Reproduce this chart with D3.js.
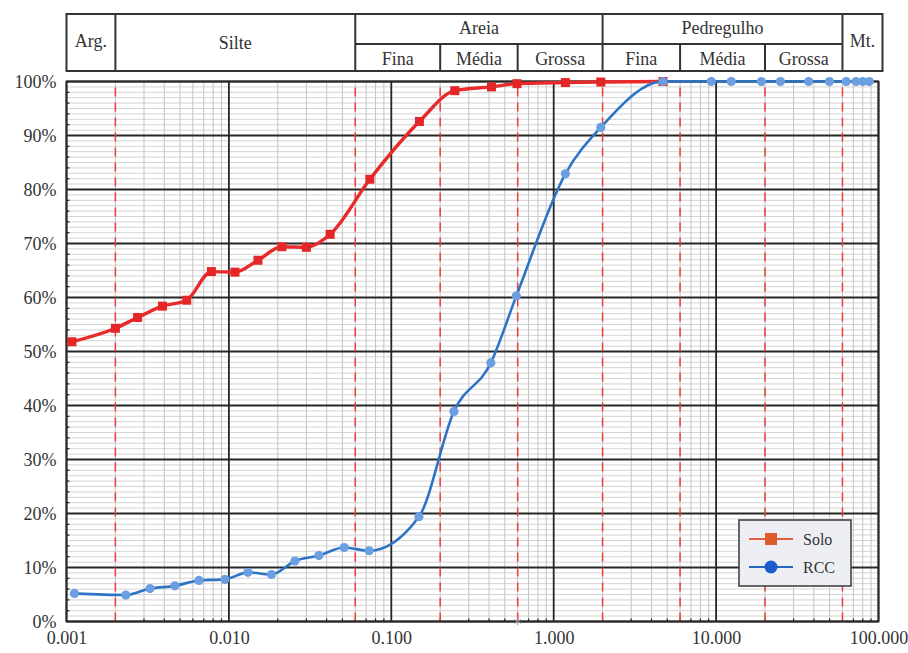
<!DOCTYPE html>
<html>
<head>
<meta charset="utf-8">
<script src="https://cdn.jsdelivr.net/npm/d3@7"></script>
<style>
  html, body { margin: 0; padding: 0; background: #fff; }
  svg { display: block; }
  text { font-family: "Liberation Serif", "Times New Roman", serif; fill: #333; }
</style>
</head>
<body>
<svg id="chart" width="908" height="653"></svg>
<script>
// Grain-size distribution (particle diameter in mm vs. % passing)
const soloDiam = [0.00108, 0.002, 0.00274, 0.0039, 0.0055, 0.0078, 0.0109, 0.0151, 0.0212, 0.030, 0.042, 0.0738, 0.149, 0.246, 0.414, 0.594, 1.18, 1.95, 4.71];
const soloPass = [51.8, 54.3, 56.3, 58.4, 59.5, 64.8, 64.7, 66.9, 69.4, 69.3, 71.7, 81.9, 92.6, 98.3, 99.0, 99.6, 99.8, 99.9, 100];

const rccDiam = [0.00112, 0.00232, 0.00327, 0.00465, 0.00654, 0.00945, 0.0131, 0.0183, 0.0255, 0.0358, 0.0513, 0.073, 0.148, 0.243, 0.41, 0.589, 1.18, 1.95, 4.71, 9.34, 12.4, 19.0, 24.9, 37.2, 49.9, 63.3, 72.8, 80.0, 87.7];
const rccPass = [5.2, 4.9, 6.1, 6.6, 7.6, 7.8, 9.1, 8.7, 11.2, 12.2, 13.7, 13.1, 19.4, 38.9, 47.9, 60.3, 82.9, 91.5, 100, 100, 100, 100, 100, 100, 100, 100, 100, 100, 100];

// Classification limits (mm) and the header bands they bound
const classLimits = [0.002, 0.06, 0.2, 0.6, 2, 6, 20, 60];
const topBands = [
  { label: "Arg.", from: 0.001, to: 0.002, full: true },
  { label: "Silte", from: 0.002, to: 0.06, full: true },
  { label: "Areia", from: 0.06, to: 2, full: false },
  { label: "Pedregulho", from: 2, to: 60, full: false },
  { label: "Mt.", from: 60, to: 100, full: true }
];
const subBands = [
  { label: "Fina", from: 0.06, to: 0.2 },
  { label: "Média", from: 0.2, to: 0.6 },
  { label: "Grossa", from: 0.6, to: 2 },
  { label: "Fina", from: 2, to: 6 },
  { label: "Média", from: 6, to: 20 },
  { label: "Grossa", from: 20, to: 60 }
];

const xTicks = [0.001, 0.01, 0.1, 1, 10, 100];
const yTicks = [0, 10, 20, 30, 40, 50, 60, 70, 80, 90, 100];
const seriesNames = ["Solo", "RCC"];

const svg = d3.select("#chart");
const x = d3.scaleLog().domain([0.001, 100]).range([66.5, 878.5]);
const y = d3.scaleLinear().domain([0, 100]).range([621.5, 81.5]);
const [x0, x1] = x.range();
const [y0, y1] = y.range();

svg.append("rect").attr("width", 908).attr("height", 653).attr("fill", "#fff");

// ---- grid ----
const grid = svg.append("g");
const minorX = [];
[0.001, 0.01, 0.1, 1, 10].forEach(d => { for (let k = 2; k <= 9; k++) minorX.push(k * d); });
const minorY = d3.range(0, 101, 1).filter(v => v % 10 !== 0);

grid.selectAll(".hmin").data(minorY).join("line")
  .attr("x1", x0).attr("x2", x1)
  .attr("y1", d => y(d)).attr("y2", d => y(d))
  .attr("stroke", "#cfcfcf").attr("stroke-width", 0.9);
grid.selectAll(".vmin").data(minorX).join("line")
  .attr("x1", d => x(d)).attr("x2", d => x(d))
  .attr("y1", y0).attr("y2", y1)
  .attr("stroke", "#c4c4c4").attr("stroke-width", 1);
grid.selectAll(".hmaj").data(yTicks).join("line")
  .attr("x1", x0).attr("x2", x1)
  .attr("y1", d => y(d)).attr("y2", d => y(d))
  .attr("stroke", "#262626").attr("stroke-width", 1.8);
grid.selectAll(".vmaj").data(xTicks).join("line")
  .attr("x1", d => x(d)).attr("x2", d => x(d))
  .attr("y1", y0).attr("y2", y1)
  .attr("stroke", "#262626").attr("stroke-width", 1.8);

// small inner ticks
grid.selectAll(".ytk").data(d3.range(2, 100, 2).filter(v => v % 10 !== 0)).join("line")
  .attr("x1", x0).attr("x2", x0 + 3)
  .attr("y1", d => y(d)).attr("y2", d => y(d))
  .attr("stroke", "#222").attr("stroke-width", 1.2);
grid.selectAll(".xtk").data(minorX).join("line")
  .attr("x1", d => x(d)).attr("x2", d => x(d))
  .attr("y1", y0).attr("y2", y0 - 3)
  .attr("stroke", "#222").attr("stroke-width", 1.2);

// classification limits
grid.selectAll(".lim").data(classLimits).join("line")
  .attr("x1", d => x(d)).attr("x2", d => x(d))
  .attr("y1", y0).attr("y2", y1)
  .attr("stroke", "#ef3b3b").attr("stroke-width", 1.5)
  .attr("stroke-dasharray", "9,6");

// plot frame
svg.append("rect")
  .attr("x", x0).attr("y", y1).attr("width", x1 - x0).attr("height", y0 - y1)
  .attr("fill", "none").attr("stroke", "#262626").attr("stroke-width", 1.8);

// ---- axes ----
const yAxis = svg.append("g").attr("transform", `translate(${x0},0)`)
  .call(d3.axisLeft(y).tickValues(yTicks).tickFormat(d => d + "%").tickSize(0).tickPadding(10));
const xAxis = svg.append("g").attr("transform", `translate(0,${y0})`)
  .call(d3.axisBottom(x).tickValues(xTicks).tickFormat(d3.format(".3f")).tickSize(0).tickPadding(10));
[yAxis, xAxis].forEach(a => {
  a.select(".domain").remove();
  a.selectAll("text").attr("font-size", 18).attr("fill", "#333");
});

// small grey marker sitting on the axis at 0.6 mm
svg.append("path")
  .attr("d", d3.symbol(d3.symbolAsterisk, 40)())
  .attr("transform", `translate(${x(0.6)},${y(0)})`)
  .attr("fill", "none").attr("stroke", "#999").attr("stroke-width", 1);

// ---- series ----
const line = d3.line().x(d => x(d[0])).y(d => y(d[1])).curve(d3.curveMonotoneX);
const solo = d3.zip(soloDiam, soloPass);
const rcc = d3.zip(rccDiam, rccPass);

svg.append("path").datum(solo).attr("d", line)
  .attr("fill", "none").attr("stroke", "#e82a2a").attr("stroke-width", 3.4)
  .attr("stroke-linejoin", "round");
svg.selectAll(".soloPt").data(solo).join("rect")
  .attr("x", d => x(d[0]) - 4.5).attr("y", d => y(d[1]) - 4.5)
  .attr("width", 9).attr("height", 9).attr("fill", "#e52626");

svg.append("path").datum(rcc).attr("d", line)
  .attr("fill", "none").attr("stroke", "#2d74c6").attr("stroke-width", 2.6)
  .attr("stroke-linejoin", "round");
svg.selectAll(".rccPt").data(rcc).join("circle")
  .attr("cx", d => x(d[0])).attr("cy", d => y(d[1])).attr("r", 4.6)
  .attr("fill", "#6c9fe2");

// ---- header table ----
const hTop = 14, hMid = 44, hBot = 71, hRight = x1 + 4;
const head = svg.append("g");
head.append("rect").attr("x", x0).attr("y", hTop).attr("width", hRight - x0).attr("height", hBot - hTop)
  .attr("fill", "#fff").attr("stroke", "#333").attr("stroke-width", 2);
head.selectAll(".tb").data([0.002, 0.06, 2, 60]).join("line")
  .attr("x1", d => x(d)).attr("x2", d => x(d)).attr("y1", hTop).attr("y2", hBot)
  .attr("stroke", "#333").attr("stroke-width", 2);
head.append("line").attr("x1", x(0.06)).attr("x2", x(60)).attr("y1", hMid).attr("y2", hMid)
  .attr("stroke", "#333").attr("stroke-width", 2);
head.selectAll(".sb").data([0.2, 0.6, 6, 20]).join("line")
  .attr("x1", d => x(d)).attr("x2", d => x(d)).attr("y1", hMid).attr("y2", hBot)
  .attr("stroke", "#333").attr("stroke-width", 2);

const bandMid = b => b.to === 100 ? (x(b.from) + hRight) / 2 : (x(b.from) + x(b.to)) / 2;
head.selectAll(".tt").data(topBands).join("text")
  .attr("x", bandMid)
  .attr("y", d => d.full ? (d.label === "Silte" ? 49 : 47) : 34)
  .attr("text-anchor", "middle").attr("font-size", 18)
  .text(d => d.label);
head.selectAll(".st").data(subBands).join("text")
  .attr("x", bandMid).attr("y", 65)
  .attr("text-anchor", "middle").attr("font-size", 18)
  .text(d => d.label);

// ---- legend ----
const lg = svg.append("g").attr("transform", "translate(739,520)");
lg.append("rect").attr("width", 112).attr("height", 66)
  .attr("fill", "#eceef3").attr("stroke", "#444").attr("stroke-width", 1.6);
const legendStyle = [
  { stroke: "#e0603f", fill: "#dd5a2c", shape: "square" },
  { stroke: "#2a62c0", fill: "#1a5ccc", shape: "circle" }
];
seriesNames.forEach((name, i) => {
  const cy = 19 + i * 28;
  const st = legendStyle[i];
  lg.append("line").attr("x1", 10).attr("x2", 54).attr("y1", cy).attr("y2", cy)
    .attr("stroke", st.stroke).attr("stroke-width", 2);
  if (st.shape === "square") {
    lg.append("rect").attr("x", 32 - 6).attr("y", cy - 6).attr("width", 12).attr("height", 12).attr("fill", st.fill);
  } else {
    lg.append("circle").attr("cx", 32).attr("cy", cy).attr("r", 6.5).attr("fill", st.fill);
  }
  lg.append("text").attr("x", 64).attr("y", cy + 6).attr("font-size", 16).text(name);
});
</script>
</body>
</html>
